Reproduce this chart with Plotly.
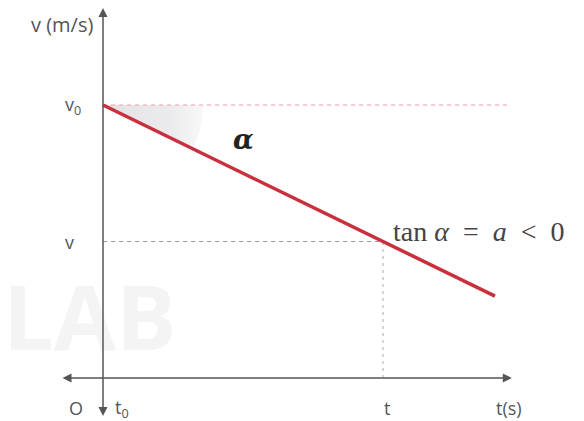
import numpy as np
import plotly.graph_objects as go

# data (arbitrary units)
t_vals = [0, 14]          # line start / end time
v_vals = [10, 3]          # velocity at start / end
t_mark = 10               # time t
v_mark = 5                # velocity at t
v0_guide_end = 14.5

W, H = 584, 421
# pixel mapping
x0_px, y0_px = 103, 378
sx, sy = 28.0, 27.3
xr = [-x0_px / sx, (W - x0_px) / sx]
yr = [-(H - y0_px) / sy, y0_px / sy]

fig = go.Figure()

# angle wedge (sector computed in pixel space, converted to data)
ang = np.arctan2((v_vals[0] - v_vals[1]) * sy, (t_vals[1] - t_vals[0]) * sx)
R = 100
th = np.linspace(0, ang, 30)
wx = np.concatenate([[0], R * np.cos(th) / sx, [0]])
wy = np.concatenate([[v_vals[0]], v_vals[0] - R * np.sin(th) / sy, [v_vals[0]]])
fig.add_trace(go.Scatter(x=wx, y=wy, mode="lines", line=dict(width=0),
                         fill="toself",
                         fillgradient=dict(type="horizontal",
                                           colorscale=[[0, "#e2e2e4"], [0.7, "#ececee"], [1, "#f8f8f8"]]),
                         hoverinfo="skip", showlegend=False))

# guides
fig.add_trace(go.Scatter(x=[0, v0_guide_end], y=[v_vals[0], v_vals[0]], mode="lines",
                         line=dict(color="#e8a0a8", width=1, dash="4px,4px"), showlegend=False))
fig.add_trace(go.Scatter(x=[0, t_mark], y=[v_mark, v_mark], mode="lines",
                         line=dict(color="#999999", width=1, dash="4px,4px"), showlegend=False))
fig.add_trace(go.Scatter(x=[t_mark, t_mark], y=[0, v_mark], mode="lines",
                         line=dict(color="#aaaaaa", width=1, dash="3px,4px"), showlegend=False))

# watermark
fig.add_annotation(x=-3.65, y=0.0, xref="x", yref="y", text="<b>LAB</b>", showarrow=False,
                   xanchor="left", yanchor="bottom",
                   font=dict(family="Open Sans", size=90, color="#f4f4f4"))

# main line
fig.add_trace(go.Scatter(x=t_vals, y=v_vals, mode="lines",
                         line=dict(color="#c9303e", width=3.5), showlegend=False))

axc = "#555555"
# vertical axis
fig.add_annotation(x=0, y=13.55, ax=0, ay=-1.45, xref="x", yref="y", axref="x", ayref="y",
                   text="", showarrow=True, arrowhead=2, startarrowhead=2, arrowside="end+start",
                   arrowsize=1.2, startarrowsize=1.2, arrowwidth=1.5, arrowcolor=axc)
# horizontal axis
fig.add_annotation(x=14.6, y=0, ax=-1.5, ay=0, xref="x", yref="y", axref="x", ayref="y",
                   text="", showarrow=True, arrowhead=2, startarrowhead=2, arrowside="end+start",
                   arrowsize=1.2, startarrowsize=1.2, arrowwidth=1.5, arrowcolor=axc)

lab_font = dict(family="Open Sans", size=18, color="#555555")
def lab(x, y, text, size=18, xanchor="center", **kw):
    f = dict(lab_font); f["size"] = size; f.update(kw.pop("font", {}))
    fig.add_annotation(x=x, y=y, xref="x", yref="y", text=text, showarrow=False,
                       xanchor=xanchor, yanchor="middle", font=f, **kw)

lab(-0.3, 12.95, "v (m/s)", size=20, xanchor="right")
lab(-0.72, v_vals[0], "v<sub>0</sub>", xanchor="right")
lab(-0.95, v_mark, "v", xanchor="right")
lab(-0.96, -1.1, "O")
lab(0.35, -1.1, "t<sub>0</sub>", xanchor="left")
lab(10.14, -1.1, "t")
lab(14.5, -1.1, "t(s)")
lab(5.0, 8.75, "<b><i>α</i></b>", size=27, font=dict(family="DejaVu Serif", color="#222222"))
lab(10.3, 5.35, "tan <i>α</i>&nbsp; = &nbsp;<i>a</i>&nbsp; &lt; &nbsp;0", size=28, xanchor="left",
    font=dict(family="Liberation Serif", color="#444444"))

fig.update_xaxes(range=xr, visible=False, fixedrange=True)
fig.update_yaxes(range=yr, visible=False, fixedrange=True)
fig.update_layout(width=W, height=H, margin=dict(l=0, r=0, t=0, b=0),
                  paper_bgcolor="white", plot_bgcolor="white", showlegend=False)
fig.write_html("out.html", config={"displayModeBar": False},
               post_script="document.body.style.margin='0';")
